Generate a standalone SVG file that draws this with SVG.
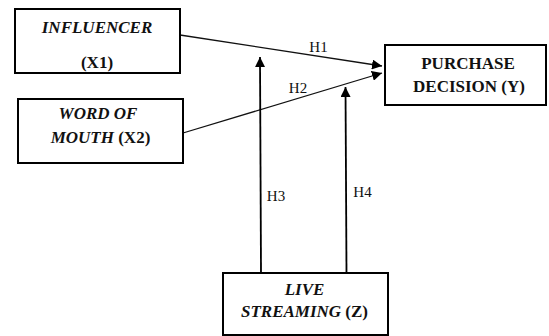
<svg xmlns="http://www.w3.org/2000/svg" width="549" height="336" viewBox="0 0 549 336">
<defs>
<style>
.box{fill:#fff;stroke:#000;stroke-width:2}
.t{font-family:"Liberation Serif","Times New Roman",serif;font-size:17px;font-weight:bold;fill:#111;text-anchor:middle}
.i{font-style:italic}
.h{font-family:"Liberation Serif","Times New Roman",serif;font-size:15px;fill:#111;text-anchor:middle}
.c{fill:none;stroke:#111;stroke-width:1.3}
.v{fill:none;stroke:#000;stroke-width:1.8}
</style>
<marker id="ah" viewBox="0 0 10 10" refX="10" refY="5" markerWidth="10" markerHeight="10" markerUnits="userSpaceOnUse" orient="auto">
<path d="M0,0 L10,5 L0,10 z" fill="#000"/>
</marker>
</defs>
<rect width="549" height="336" fill="#fff"/>
<g id="connectors">
<line class="c" x1="180" y1="35" x2="382" y2="66" marker-end="url(#ah)"/>
<line class="c" x1="183" y1="133" x2="382" y2="73" marker-end="url(#ah)"/>
<line class="v" x1="261" y1="273" x2="260" y2="57" marker-end="url(#ah)"/>
<line class="v" x1="346.5" y1="273" x2="345.5" y2="87" marker-end="url(#ah)"/>
<text class="h" x="318.5" y="52">H1</text>
<text class="h" x="298" y="93">H2</text>
<text class="h" x="276" y="201">H3</text>
<text class="h" x="362.5" y="197">H4</text>
</g>
<g id="influencer">
<rect class="box" x="15" y="9" width="165" height="64"/>
<text class="t i" x="97" y="33">INFLUENCER</text>
<text class="t" x="97" y="68">(X1)</text>
</g>
<g id="word-of-mouth">
<rect class="box" x="18" y="99" width="165" height="64"/>
<text class="t i" x="98" y="119">WORD OF</text>
<text class="t" x="100.5" y="143"><tspan class="i">MOUTH</tspan> (X2)</text>
</g>
<g id="purchase-decision">
<rect class="box" x="385" y="45" width="161" height="60"/>
<text class="t" x="468" y="69">PURCHASE</text>
<text class="t" x="469" y="92">DECISION (Y)</text>
</g>
<g id="live-streaming">
<rect class="box" x="223" y="273" width="165" height="62"/>
<text class="t i" x="304.5" y="295">LIVE</text>
<text class="t" x="304.5" y="317"><tspan class="i">STREAMING</tspan> (Z)</text>
</g>
</svg>
